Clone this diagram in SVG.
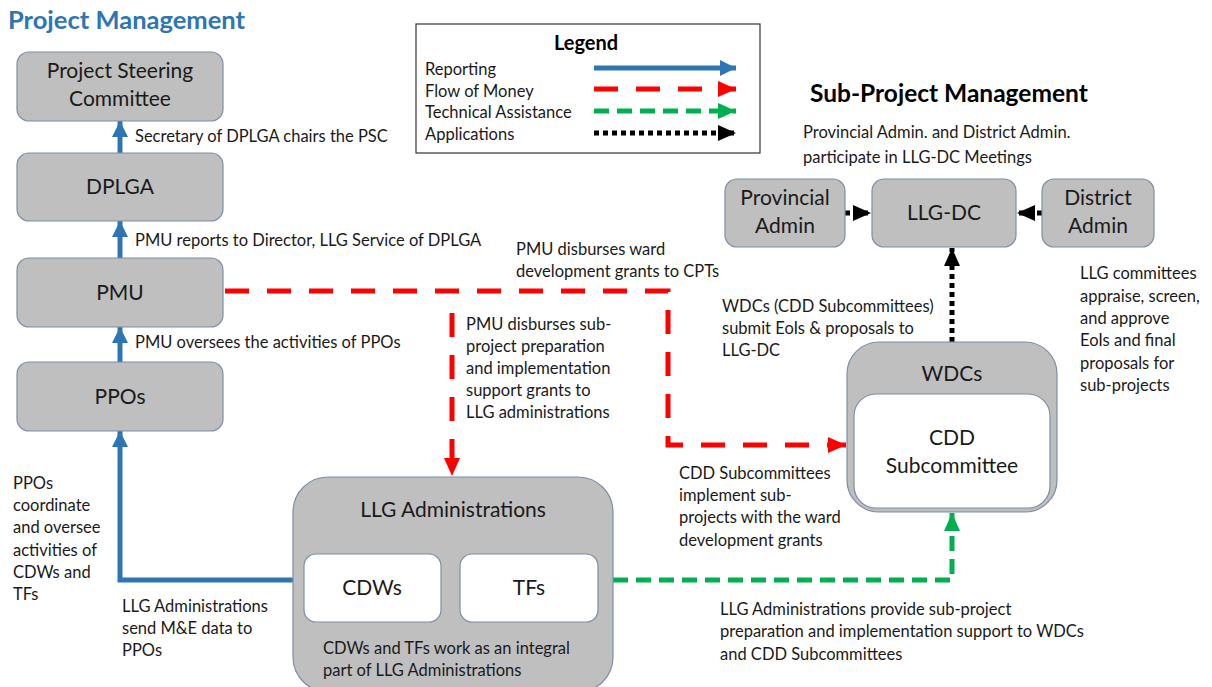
<svg xmlns="http://www.w3.org/2000/svg" width="1212" height="687" viewBox="0 0 1212 687">
<style>
text{font-family:Lato,"Liberation Sans",sans-serif;fill:#1a1a1a}
.lbl{font-size:16.5px}
.box{fill:#BFBFBF;stroke:#7C8FA8;stroke-width:1.2}
.inner{fill:#FFFFFF;stroke:#7C8FA8;stroke-width:1.2}
.bt{font-size:21px;text-anchor:middle}
.blue{fill:none;stroke:#2E75B6;stroke-width:5}
.red{fill:none;stroke:#FF0000;stroke-width:5;stroke-dasharray:24 18}
.green{fill:none;stroke:#00B050;stroke-width:5;stroke-dasharray:15 8}
.black{fill:none;stroke:#000000;stroke-width:5;stroke-dasharray:5 4}
</style>
<defs>
<marker id="aB" markerUnits="userSpaceOnUse" viewBox="0 0 16 16" refX="16" refY="8" markerWidth="16" markerHeight="16" orient="auto"><path d="M0,0 L16,8 L0,16 z" fill="#2E75B6"/></marker>
<marker id="aR" markerUnits="userSpaceOnUse" viewBox="0 0 18 16" refX="18" refY="8" markerWidth="18" markerHeight="16" orient="auto"><path d="M0,0 L18,8 L0,16 z" fill="#FF0000"/></marker>
<marker id="aG" markerUnits="userSpaceOnUse" viewBox="0 0 18 16" refX="18" refY="8" markerWidth="18" markerHeight="16" orient="auto"><path d="M0,0 L18,8 L0,16 z" fill="#00B050"/></marker>
<marker id="aK" markerUnits="userSpaceOnUse" viewBox="0 0 18 16" refX="18" refY="8" markerWidth="18" markerHeight="16" orient="auto"><path d="M0,0 L18,8 L0,16 z" fill="#000000"/></marker>
</defs>
<rect width="1212" height="687" fill="#FFFFFF"/>

<text x="8" y="29" style="font-size:25.5px;font-weight:bold;fill:#2E75B6">Project Management</text>
<text x="810" y="102" style="font-size:24.5px;font-weight:bold;fill:#000">Sub-Project Management</text>

<g id="legend">
<rect x="416" y="24" width="344" height="129" fill="#FFFFFF" stroke="#333" stroke-width="1.2"/>
<text x="586" y="50" style="font-size:20px;font-weight:bold;text-anchor:middle;fill:#000">Legend</text>
<text class="lbl" x="425" y="75">Reporting</text>
<text class="lbl" x="425" y="97">Flow of Money</text>
<text class="lbl" x="425" y="118">Technical Assistance</text>
<text class="lbl" x="425" y="140">Applications</text>
<path class="blue" d="M594,68 H736" marker-end="url(#aB)"/>
<path class="red" d="M594,89 H736" marker-end="url(#aR)"/>
<path class="green" d="M594,111 H736" marker-end="url(#aG)"/>
<path class="black" d="M594,133 H736" marker-end="url(#aK)"/>
</g>

<g id="connectors">
<path class="blue" d="M120,153 V121" marker-end="url(#aB)"/>
<path class="blue" d="M120,258 V221" marker-end="url(#aB)"/>
<path class="blue" d="M120,362 V327" marker-end="url(#aB)"/>
<path class="blue" d="M293,580 H120 V431" marker-end="url(#aB)"/>
<path class="red" d="M225,291 H668 V445 H846" marker-end="url(#aR)"/>
<path class="red" d="M452,313 V476" marker-end="url(#aR)"/>
<path class="green" d="M613,580 H952 V513" marker-end="url(#aG)"/>
<path class="black" d="M952,342 V248" marker-end="url(#aK)"/>
<path class="black" d="M845,213 H871" marker-end="url(#aK)"/>
<path class="black" d="M1042,213 H1017" marker-end="url(#aK)"/>
</g>

<g id="psc">
<rect class="box" x="17" y="52" width="206" height="69" rx="12"/>
<text class="bt" x="120" y="78">Project Steering</text>
<text class="bt" x="120" y="106">Committee</text>
</g>
<g id="dplga">
<rect class="box" x="17" y="153" width="206" height="68" rx="12"/>
<text class="bt" x="120" y="194">DPLGA</text>
</g>
<g id="pmu">
<rect class="box" x="17" y="258" width="206" height="69" rx="12"/>
<text class="bt" x="120" y="300">PMU</text>
</g>
<g id="ppos">
<rect class="box" x="17" y="362" width="206" height="69" rx="12"/>
<text class="bt" x="120" y="404">PPOs</text>
</g>
<g id="llgadmin">
<rect class="box" x="293" y="477" width="320" height="215" rx="35"/>
<text class="bt" x="453" y="517">LLG Administrations</text>
<rect class="inner" x="304" y="554" width="137" height="68" rx="12"/>
<text class="bt" x="372" y="595">CDWs</text>
<rect class="inner" x="460" y="554" width="138" height="68" rx="12"/>
<text class="bt" x="529" y="595">TFs</text>
<text class="lbl" x="323" y="654">CDWs and TFs work as an integral</text>
<text class="lbl" x="323" y="676">part of LLG Administrations</text>
</g>
<g id="provincial">
<rect class="box" x="725" y="179" width="120" height="68" rx="12"/>
<text class="bt" x="785" y="205">Provincial</text>
<text class="bt" x="785" y="233">Admin</text>
</g>
<g id="llgdc">
<rect class="box" x="872" y="179" width="144" height="68" rx="12"/>
<text class="bt" x="944" y="220">LLG-DC</text>
</g>
<g id="district">
<rect class="box" x="1042" y="179" width="112" height="68" rx="12"/>
<text class="bt" x="1098" y="205">District</text>
<text class="bt" x="1098" y="233">Admin</text>
</g>
<g id="wdcs">
<rect class="box" x="847" y="342" width="210" height="170" rx="32"/>
<text class="bt" x="952" y="381">WDCs</text>
<rect class="inner" x="854" y="394" width="196" height="114" rx="22"/>
<text class="bt" x="952" y="445">CDD</text>
<text class="bt" x="952" y="473">Subcommittee</text>
</g>

<g id="labels">
<text class="lbl" x="135" y="142">Secretary of DPLGA chairs the PSC</text>
<text class="lbl" x="135" y="246">PMU reports to Director, LLG Service of DPLGA</text>
<text class="lbl" x="135" y="348">PMU oversees the activities of PPOs</text>
<text class="lbl" x="516" y="255">PMU disburses ward</text>
<text class="lbl" x="516" y="277">development grants to CPTs</text>
<text class="lbl" x="466" y="330">PMU disburses sub-</text>
<text class="lbl" x="466" y="352">project preparation</text>
<text class="lbl" x="466" y="374">and implementation</text>
<text class="lbl" x="466" y="396">support grants to</text>
<text class="lbl" x="466" y="418">LLG administrations</text>
<text class="lbl" x="803" y="138">Provincial Admin. and District Admin.</text>
<text class="lbl" x="803" y="163">participate in LLG-DC Meetings</text>
<text class="lbl" x="722" y="312">WDCs (CDD Subcommittees)</text>
<text class="lbl" x="722" y="334">submit EoIs &amp; proposals to</text>
<text class="lbl" x="722" y="356">LLG-DC</text>
<text class="lbl" x="1080" y="279">LLG committees</text>
<text class="lbl" x="1080" y="302">appraise, screen,</text>
<text class="lbl" x="1080" y="324">and approve</text>
<text class="lbl" x="1080" y="346">EoIs and final</text>
<text class="lbl" x="1080" y="369">proposals for</text>
<text class="lbl" x="1080" y="391">sub-projects</text>
<text class="lbl" x="679" y="479">CDD Subcommittees</text>
<text class="lbl" x="679" y="501">implement sub-</text>
<text class="lbl" x="679" y="523">projects with the ward</text>
<text class="lbl" x="679" y="546">development grants</text>
<text class="lbl" x="13" y="489">PPOs</text>
<text class="lbl" x="13" y="511">coordinate</text>
<text class="lbl" x="13" y="533">and oversee</text>
<text class="lbl" x="13" y="556">activities of</text>
<text class="lbl" x="13" y="578">CDWs and</text>
<text class="lbl" x="13" y="600">TFs</text>
<text class="lbl" x="122" y="612">LLG Administrations</text>
<text class="lbl" x="122" y="634">send M&amp;E data to</text>
<text class="lbl" x="122" y="656">PPOs</text>
<text class="lbl" x="720" y="615">LLG Administrations provide sub-project</text>
<text class="lbl" x="720" y="637">preparation and implementation support to WDCs</text>
<text class="lbl" x="720" y="660">and CDD Subcommittees</text>
</g>
</svg>
